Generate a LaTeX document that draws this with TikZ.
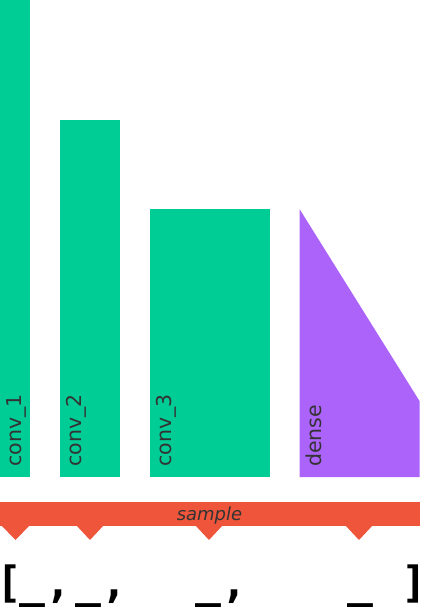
\documentclass[tikz,border=0pt]{standalone}
\usepackage{fontspec}
\setmainfont{DejaVu Sans}
\newfontfamily\monofont{DejaVu Sans Mono}
\definecolor{convgreen}{HTML}{00CC96}
\definecolor{densepurple}{HTML}{AB63FA}
\definecolor{samplered}{HTML}{EF553B}
\definecolor{labelgray}{HTML}{333333}
\begin{document}
\begin{tikzpicture}[x=1pt,y=-1pt,
  layerlabel/.style={rotate=90,anchor=base west,inner sep=0pt,text=labelgray,font=\fontsize{20.5}{24}\selectfont},
  bottomtext/.style={anchor=base west,inner sep=0pt,font=\monofont\bfseries\fontsize{43}{50}\selectfont},
  tab/.style={fill=samplered}]
\useasboundingbox (0,0) rectangle (420,607);
% layers
\fill[convgreen] (0,0) rectangle (30,477);
\fill[convgreen] (60,120) rectangle (119.5,477);
\fill[convgreen] (150,209) rectangle (269.5,477);
\fill[densepurple] (299.5,209) -- (419.5,401) -- (419.5,477) -- (299.5,477) -- cycle;
\node[layerlabel] (l1) at (21,467) {conv\_1};
\node[layerlabel] (l2) at (81,467) {conv\_2};
\node[layerlabel] (l3) at (171,467) {conv\_3};
\node[layerlabel] (l4) at (321,467) {dense};
% sample bar
\fill[samplered] (0,502) rectangle (419.5,526);
\fill[tab] (1,525) -- (15.5,540) -- (30,525) -- cycle;
\fill[tab] (76,525) -- (90,540) -- (104,525) -- cycle;
\fill[tab] (195,525) -- (209,540) -- (223,525) -- cycle;
\fill[tab] (345,525) -- (359,540) -- (373,525) -- cycle;
\node[anchor=base,inner sep=0pt,text=labelgray,font=\itshape\fontsize{18}{22}\selectfont] (s) at (209.5,520) {sample};
% bottom text
\node[bottomtext] (b0) at (-4,597) {[};
\node[bottomtext] (b1) at (19,597) {\_,};
\node[bottomtext] (b2) at (75,597) {\_,};
\node[bottomtext] (b3) at (195,597) {\_,};
\node[bottomtext] (b4) at (347,597) {\_};
\node[bottomtext,anchor=base east] (b5) at (428,597) {]};
\end{tikzpicture}
\end{document}
